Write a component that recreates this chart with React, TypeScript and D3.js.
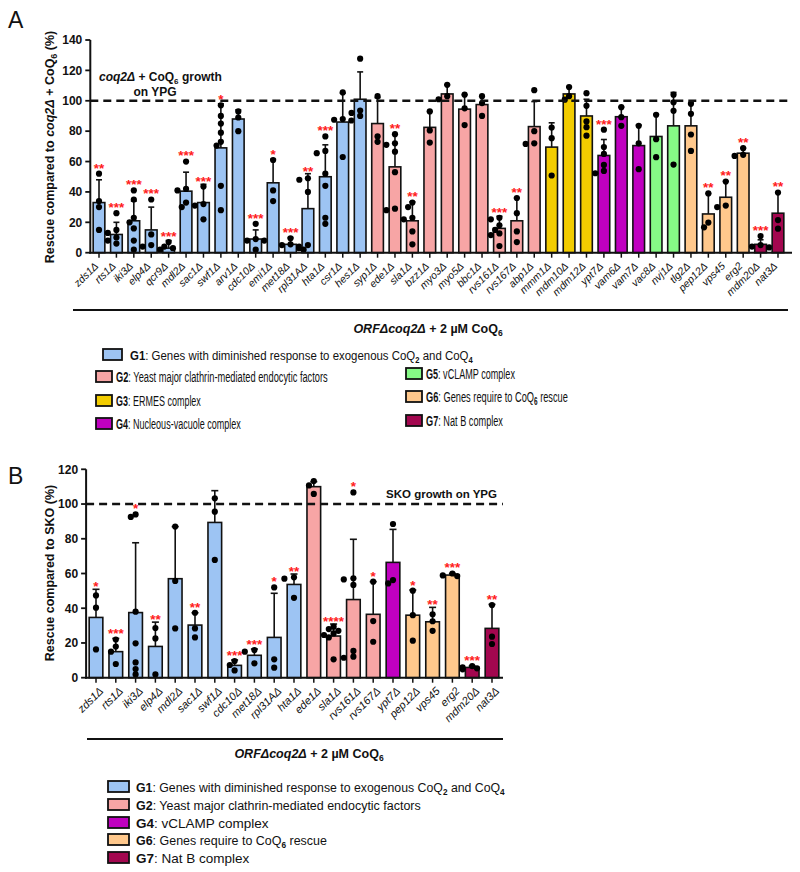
import React, { useLayoutEffect, useRef, useState } from "react";
import * as d3 from "d3";

// ---------------- Panel A data ----------------
const genesA = ["zds1","rts1","iki3","elp4","qcr9","mdl2","sac1","swf1","arv1","cdc10","emi1","met18","rpl31A","hta1","csr1","hes1","syp1","ede1","sla1","bzz1","myo3","myo5","bbc1","rvs161","rvs167","abp1","mmm1","mdm10","mdm12","ypt7","vam6","vam7","vac8","nvj1","tlg2","pep12","vps45","erg2","mdm20","nat3"];
const noDelta = ["vps45","erg2"];
const groupsA = [1,1,1,1,1,1,1,1,1,1,1,1,1,1,1,1,2,2,2,2,2,2,2,2,2,2,3,3,3,4,4,4,5,5,6,6,6,6,7,7];
const meansA = [33,12,21,15,3,40.5,33,69,88,9,46,5.5,29,50,86,101,85,56.5,21,82.5,104.5,94.5,97.5,16,21,83,69.5,104.5,90,64,89.5,70.5,76.5,83.5,83.5,25.5,36.5,65.5,5.5,26];
const errTopA = [48,20,34,30,8,53,45,98,94,15,61.5,10,52,71,105,119,102,78,33.5,93,110.5,104,103,24,36,99.5,85.5,109,101,74.5,96,84,91,105.5,98.5,39,47,69,8.5,39.5];
const dotsA = [
  [52,34,30,15],[26,15,13,10,8,6],[41,35,23,20,16,8,2],[35,12,5,4],[7,4,3,2],
  [60,42,41,33,30],[43.5,32,31,22],[97,90,85,79,73,70.5,44,28],[93,89,80],[19,9,8,8,2],
  [61,41,34],[9.5,5.5,5,4,3],[49,48,40,5,2],[76.5,67,65.5,52,44,23,19],[105.5,88,87.5,87,63],
  [127.7,93.6,92,90],[103,76.5,73],[78,72,71,66.5,53,29,28],[33,30,23,22,14,5.5],[93,80.5,72.5],
  [110.5,103,101],[104,95,84],[103,98.5,90],[23,22,18,15,12.7,11.6,4.4],[36,26,14,7],
  [107,80,72,71.6],[82.4,75.4,50.8],[109,103,100.7],[105,96.7,86.4,82.6,77],[81,69.5,65,57.8,53.8,52.3],
  [95.8,89.2,83.5],[83.5,72,55],[90.8,74.7,62.9],[104,99,93.4,58],[98,91.4,77.8,67],
  [39,19.8,16.7],[46.8,31,30],[68.8,64.4,63.7],[11,5,4,3.5],[39.6,21.5,15.8]
];
const starsA = ["**","***","***","***","***","***","***","*","","***","*","***","**","***","","","","**","**","","","","","***","**","","","","","***","","","","","","**","**","**","***","**"];
const yTicksA = [0,20,40,60,80,100,120,140];

// ---------------- Panel B data ----------------
const genesB = ["zds1","rts1","iki3","elp4","mdl2","sac1","swf1","cdc10","met18","rpl31A","hta1","ede1","sla1","rvs161","rvs167","ypt7","pep12","vps45","erg2","mdm20","nat3"];
const groupsB = [1,1,1,1,1,1,1,1,1,1,1,2,2,2,2,4,6,6,6,7,7];
const meansB = [34.7,15,37.5,18,57,30.3,89.4,7.1,12.9,23.2,53.7,110,24,45,36.5,66.4,36,32.2,59.1,5.9,28.4];
const errTopB = [50.9,22.6,77.7,32,87,37.4,107.7,10.2,16.5,48.6,59.7,112.9,30.9,79.7,55.3,85.4,50.5,40.5,60,6.7,42.2];
const dotsB = [
  [47.4,40.3,16.3],[22,17.9,15,7.9],[94,92.6,38,19.8,8.8,5,1.9],[28.6,22.6,1.9],[87,55.7,28.4],
  [37.4,28.4,23.2],[103.3,95.6,67.8],[9.6,7.3,4.2],[15.9,15,8.3],[52,10.6,5.8],[57.8,57,46],
  [113.2,110.7,105.8],[29.4,28,27,25.5,24.6,23.2,10.6],[106.7,57.2,56.6,53.4,15.4,12.1,11.5],
  [55.3,32.6,20.7],[88.5,56.2,54.3],[50.1,36,21.3],[36.5,32.5,27],[60,58.9,58.5],[6.7,5.9,5.4,4.8],[41.8,23.6,19.4]
];
const starsB = ["*","***","*","**","","**","","***","***","*","**","","****","*","*","","*","**","***","***","**"];
const yTicksB = [0,20,40,60,80,100,120];

const groupColors: Record<number, string> = {
  1: "#9DC4F3", 2: "#F7A5A5", 3: "#F2CC00", 4: "#C000C0", 5: "#86F986", 6: "#FFC88C", 7: "#A3074F",
};

const FONT = "'Liberation Sans', Arial, sans-serif";
const RED = "#FF2020";

function swarm(vals: number[], y: (v: number) => number, r: number, d: number) {
  const placed: { dx: number; py: number }[] = [];
  const order = vals.map((_, i) => i).sort((a, b) => vals[b] - vals[a]);
  const res: number[] = new Array(vals.length).fill(0);
  const offs = [0, -d, d, -2 * d, 2 * d];
  for (const i of order) {
    const py = y(vals[i]);
    let chosen = offs[0];
    let found = false;
    for (const o of offs) {
      if (placed.every((p) => Math.hypot(p.dx - o, p.py - py) >= 2 * r * 0.85)) {
        chosen = o; found = true; break;
      }
    }
    if (!found) chosen = offs[placed.length % offs.length];
    placed.push({ dx: chosen, py });
    res[i] = chosen;
  }
  return res;
}

type PanelProps = {
  genes: string[]; groups: number[]; means: number[]; errs: number[]; dots: number[][]; stars: string[];
  ticks: number[]; xRange: [number, number]; yRange: [number, number]; yMax: number; padding: number;
  axisEnd: number; capW: number; dotD: number; labelDx: number; labelDy: number; labelSize: number;
};

function Panel(p: PanelProps) {
  const x = d3.scaleBand<string>().domain(p.genes).range(p.xRange).paddingInner(p.padding).paddingOuter(p.padding / 2);
  const y = d3.scaleLinear().domain([0, p.yMax]).range(p.yRange);
  const y0 = y(0);
  const xa = p.xRange[0];
  const bw = x.bandwidth();
  const r = 3.1;
  return (
    <g>
      {p.genes.map((g, i) => {
        const cx = (x(g) as number) + bw / 2;
        const offs = swarm(p.dots[i], y, r, p.dotD);
        const top = Math.min(y(p.errs[i]), d3.min(p.dots[i].map((v) => y(v) - r)) as number);
        return (
          <g key={g}>
            <rect x={x(g)} y={y(p.means[i])} width={bw} height={y0 - y(p.means[i])} fill={groupColors[p.groups[i]]} stroke="#111" strokeWidth={1.6} />
            <line x1={cx} x2={cx} y1={y(p.means[i])} y2={y(p.errs[i])} stroke="#111" strokeWidth={1.6} />
            <line x1={cx - p.capW / 2} x2={cx + p.capW / 2} y1={y(p.errs[i])} y2={y(p.errs[i])} stroke="#111" strokeWidth={1.6} />
            {p.dots[i].map((v, j) => (
              <circle key={j} cx={cx + offs[j]} cy={y(v)} r={r} fill="#000" />
            ))}
            {p.stars[i] && (
              <text x={cx} y={top + 2} textAnchor="middle" fill={RED} fontFamily={FONT} fontWeight="bold" fontSize={13.5}>
                {p.stars[i]}
              </text>
            )}
            <line x1={cx} x2={cx} y1={y0} y2={y0 + 5} stroke="#111" strokeWidth={1.5} />
            <text
              transform={`translate(${cx + p.labelDx},${y0 + p.labelDy}) rotate(-45)`}
              textAnchor="end" fontFamily={FONT} fontStyle="italic" fontSize={p.labelSize} fill="#111"
            >
              {g + (noDelta.includes(g) ? "" : "Δ")}
            </text>
          </g>
        );
      })}
      <line x1={xa} x2={xa} y1={y0 + 1} y2={y(p.yMax)} stroke="#111" strokeWidth={2} />
      <line x1={xa - 1} x2={p.axisEnd} y1={y0} y2={y0} stroke="#111" strokeWidth={2} />
      {p.ticks.map((t) => (
        <g key={t}>
          <line x1={xa - 5} x2={xa} y1={y(t)} y2={y(t)} stroke="#111" strokeWidth={1.8} />
          <text x={xa - 8} y={y(t) + 4.3} textAnchor="end" fontFamily={FONT} fontWeight="bold" fontSize={12} fill="#111">{t}</text>
        </g>
      ))}
      <line x1={xa} x2={p.axisEnd} y1={y(100)} y2={y(100)} stroke="#111" strokeWidth={2.5} strokeDasharray="8,5" />
    </g>
  );
}

type Seg = [string, string];
function Rich({ segs, subSize }: { segs: Seg[]; subSize: number }) {
  let shifted = false;
  return (
    <>
      {segs.map(([t, s], k) => {
        let dy = 0;
        if (s === "sub" && !shifted) { dy = 3; shifted = true; }
        else if (s !== "sub" && shifted) { dy = -3; shifted = false; }
        return (
          <tspan key={k} dy={dy || undefined}
            fontWeight={s.includes("b") ? "bold" : undefined}
            fontStyle={s.includes("i") ? "italic" : undefined}
            fontSize={s === "sub" ? subSize : undefined}>{t}</tspan>
        );
      })}
    </>
  );
}

// Text horizontally scaled to a target width (measured in the browser)
function FitText({ x, y, width, fontSize, segs, subSize }: { x: number; y: number; width: number; fontSize: number; segs: Seg[]; subSize: number }) {
  const ref = useRef<SVGTextElement>(null);
  const [s, setS] = useState(1);
  useLayoutEffect(() => {
    if (ref.current) {
      const w = ref.current.getComputedTextLength();
      if (w > 0) setS(width / w);
    }
  }, [width]);
  return (
    <g transform={`translate(${x},${y}) scale(${s},1)`}>
      <text ref={ref} x={0} y={0} fontSize={fontSize} fill="#111">
        <Rich subSize={subSize} segs={segs} />
      </text>
    </g>
  );
}

export default function App() {
  return (
    <svg width={800} height={872} style={{ position: "absolute", left: 0, top: 0, background: "#fff" }} fontFamily={FONT}>
      <rect width={800} height={872} fill="#fff" />
      <text x={8} y={28} fontSize={23} fill="#111">A</text>
      <text x={8} y={484} fontSize={23} fill="#111">B</text>

      {/* Panel A */}
      <Panel genes={genesA} groups={groupsA} means={meansA} errs={errTopA} dots={dotsA} stars={starsA}
        ticks={yTicksA} xRange={[90.3, 786.7]} yRange={[252.7, 40]} yMax={140} padding={0.33}
        axisEnd={792} capW={6} dotD={4.3} labelDx={0} labelDy={14} labelSize={10.5} />
      <text x={99} y={81} fontWeight="bold" fontSize={12} fill="#111">
        <Rich subSize={8} segs={[["coq2Δ", "i"], [" + CoQ", ""], ["6", "sub"], [" growth", ""]]} />
      </text>
      <text x={155} y={96} textAnchor="middle" fontWeight="bold" fontSize={12} fill="#111">on YPG</text>
      <text transform="translate(54,147) rotate(-90)" textAnchor="middle" fontWeight="bold" fontSize={12.5} fill="#111">
        <Rich subSize={9} segs={[["Rescue compared to ", ""], ["coq2Δ", "i"], [" + CoQ", ""], ["6", "sub"], [" (%)", ""]]} />
      </text>
      <line x1={73} x2={788} y1={310} y2={310} stroke="#111" strokeWidth={2.2} />
      <text x={428} y={333} textAnchor="middle" fontWeight="bold" fontSize={12.5} fill="#111">
        <Rich subSize={8.5} segs={[["ORFΔcoq2Δ", "i"], [" + 2 µM CoQ", ""], ["6", "sub"]]} />
      </text>

      {/* Legend A */}
      <rect x={103} y={349} width={19} height={11} fill={groupColors[1]} stroke="#111" strokeWidth={1.8} />
      <FitText x={130} y={360} width={343} fontSize={13.5} subSize={9}
        segs={[["G1", "b"], [": Genes with diminished response to exogenous CoQ", ""], ["2", "sub"], [" and CoQ", ""], ["4", "sub"]]} />
      {[
        { g: 2, x: 96, y: 377, text: "Yeast major clathrin-mediated endocytic factors", w: 212 },
        { g: 3, x: 96, y: 401, text: "ERMES complex", w: 85 },
        { g: 4, x: 96, y: 424, text: "Nucleous-vacuole complex", w: 125 },
        { g: 5, x: 406, y: 374, text: "vCLAMP complex", w: 89 },
        { g: 7, x: 406, y: 421, text: "Nat B complex", w: 77 },
      ].map((d) => (
        <g key={d.g}>
          <rect x={d.x} y={d.y - 6} width={16} height={11} fill={groupColors[d.g]} stroke="#111" strokeWidth={1.8} />
          <FitText x={d.x + 20} y={d.y + 5} width={d.w} fontSize={14.5} subSize={10}
            segs={[[`G${d.g}`, "b"], [`: ${d.text}`, ""]]} />
        </g>
      ))}
      <rect x={406} y={391} width={16} height={11} fill={groupColors[6]} stroke="#111" strokeWidth={1.8} />
      <FitText x={426} y={402} width={142} fontSize={14.5} subSize={10}
        segs={[["G6", "b"], [": Genes require to CoQ", ""], ["6", "sub"], [" rescue", ""]]} />

      {/* Panel B */}
      <Panel genes={genesB} groups={groupsB} means={meansB} errs={errTopB} dots={dotsB} stars={starsB}
        ticks={yTicksB} xRange={[86.1, 501.9]} yRange={[677.7, 469.3]} yMax={120} padding={0.31}
        axisEnd={503} capW={7} dotD={4.8} labelDx={8} labelDy={14} labelSize={11} />
      <text x={497} y={498} textAnchor="end" fontWeight="bold" fontSize={11.5} fill="#111">SKO growth on YPG</text>
      <text transform="translate(54,573) rotate(-90)" textAnchor="middle" fontWeight="bold" fontSize={12.5} fill="#111">
        Rescue compared to SKO (%)
      </text>
      <line x1={87} x2={503} y1={739} y2={739} stroke="#111" strokeWidth={2.2} />
      <text x={309} y={758} textAnchor="middle" fontWeight="bold" fontSize={12.5} fill="#111">
        <Rich subSize={8.5} segs={[["ORFΔcoq2Δ", "i"], [" + 2 µM CoQ", ""], ["6", "sub"]]} />
      </text>

      {/* Legend B */}
      {[
        { g: 1, y: 787 }, { g: 2, y: 805 }, { g: 4, y: 823 }, { g: 6, y: 840 }, { g: 7, y: 858 },
      ].map((d) => (
        <rect key={d.g} x={108} y={d.y - 6} width={21} height={11} fill={groupColors[d.g]} stroke="#111" strokeWidth={1.8} />
      ))}
      <FitText x={136} y={792} width={369} fontSize={13.5} subSize={9}
        segs={[["G1", "b"], [": Genes with diminished response to exogenous CoQ", ""], ["2", "sub"], [" and CoQ", ""], ["4", "sub"]]} />
      <FitText x={136} y={810} width={285} fontSize={13.5} subSize={9}
        segs={[["G2", "b"], [": Yeast major clathrin-mediated endocytic factors", ""]]} />
      <text x={136} y={828} fontSize={13.5} fill="#111">
        <Rich subSize={9} segs={[["G4", "b"], [": vCLAMP complex", ""]]} />
      </text>
      <FitText x={136} y={845} width={191} fontSize={13.5} subSize={9}
        segs={[["G6", "b"], [": Genes require to CoQ", ""], ["6", "sub"], [" rescue", ""]]} />
      <text x={136} y={863} fontSize={13.5} fill="#111">
        <Rich subSize={9} segs={[["G7", "b"], [": Nat B complex", ""]]} />
      </text>
    </svg>
  );
}
